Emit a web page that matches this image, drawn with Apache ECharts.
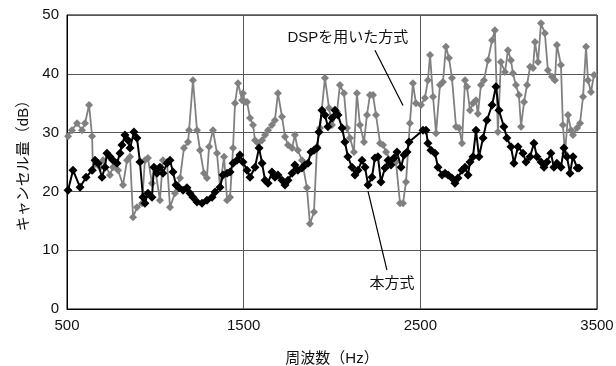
<!DOCTYPE html>
<html><head><meta charset="utf-8">
<script src="https://cdn.jsdelivr.net/npm/echarts@6/dist/echarts.min.js"></script>
<style>html,body{margin:0;padding:0;background:#fff}#c{width:616px;height:366px}</style>
</head><body><div id="c"></div>
<script>
const xTicks = [500, 1500, 2500, 3500];
const yTicks = [0, 10, 20, 30, 40, 50];
const dspName = 'DSPを用いた方式';
const oursName = '本方式';

const dspFreq = [506,528,557,585,602,625,642,647,670,687,704,743,760,789,817,840,857,874,896,925,941,958,981,998,1026,1043,1066,1083,1111,1140,1162,1185,1191,1213,1236,1253,1275,1292,1304,1326,1349,1366,1389,1406,1423,1440,1451,1468,1491,1496,1507,1519,1536,1553,1564,1581,1604,1621,1638,1660,1677,1694,1717,1734,1751,1774,1790,1807,1830,1858,1875,1898,1915,1932,1960,1983,2000,2028,2045,2068,2085,2102,2124,2141,2158,2181,2198,2215,2232,2249,2272,2289,2306,2334,2362,2385,2402,2419,2441,2458,2475,2504,2526,2543,2555,2572,2589,2611,2628,2645,2662,2679,2702,2719,2736,2753,2764,2781,2798,2815,2826,2843,2860,2883,2906,2922,2939,2956,2979,2996,3013,3024,3041,3058,3070,3087,3104,3121,3138,3149,3166,3183,3205,3222,3245,3262,3273,3296,3307,3319,3336,3353,3364,3387,3404,3421,3438,3449,3466,3483];
const dspDb = [29.4,30.4,31.6,30.4,31.6,34.7,29.4,23.6,24.8,24.1,25.3,22.8,24.1,23.6,21.1,25.3,25.9,15.6,17.3,18.0,25.3,25.7,21.4,24.0,18.5,25.3,25.0,17.3,19.7,22.3,27.4,28.4,30.4,38.9,30.4,27.0,23.1,22.3,27.6,30.4,26.5,20.7,25.9,18.5,19.0,27.4,35.0,38.4,35.5,36.7,35.2,35.2,32.5,31.3,28.7,28.2,28.7,29.6,30.4,31.3,32.1,36.7,32.7,29.3,27.9,27.4,29.6,27.0,25.3,20.6,14.5,16.5,27.6,30.8,39.3,34.2,31.3,33.5,38.1,36.7,30.8,29.1,26.7,36.7,31.3,28.4,33.0,36.4,36.4,33.0,28.2,27.9,26.7,25.3,25.0,18.0,18.0,21.6,31.6,38.4,35.0,34.7,35.9,38.9,43.2,36.1,29.9,38.1,38.6,44.6,42.7,39.3,31.0,30.8,28.2,38.9,37.8,33.8,35.0,35.5,33.2,38.1,38.9,42.3,45.7,47.4,30.1,42.0,40.3,44.0,42.3,40.1,38.1,36.4,31.0,35.2,38.1,41.2,41.0,45.4,42.0,48.6,46.9,40.6,39.5,38.9,44.9,41.5,31.3,26.5,33.0,30.4,29.6,30.8,31.6,36.1,44.6,38.9,36.9,39.8];

const oursFreq = [506,534,574,608,642,659,675,698,715,726,743,760,783,800,811,828,845,857,879,896,913,930,941,958,981,992,1009,1026,1043,1066,1083,1100,1117,1134,1157,1179,1196,1213,1236,1264,1292,1321,1338,1366,1383,1406,1423,1440,1462,1479,1496,1519,1536,1564,1587,1604,1621,1638,1660,1677,1694,1717,1734,1751,1774,1790,1807,1830,1847,1864,1881,1898,1915,1926,1943,1960,1977,2000,2017,2034,2057,2073,2090,2113,2130,2147,2170,2187,2204,2226,2243,2260,2277,2300,2317,2334,2351,2368,2391,2408,2425,2436,2515,2532,2543,2560,2583,2600,2623,2640,2657,2679,2696,2713,2736,2753,2770,2781,2798,2815,2832,2855,2877,2906,2928,2945,2973,2990,3013,3030,3053,3081,3098,3121,3143,3160,3183,3200,3217,3239,3256,3273,3296,3313,3330,3347,3364,3387,3398];
const oursDb = [20.2,23.6,20.7,22.4,23.6,25.3,24.8,22.4,24.1,26.5,25.9,25.3,24.8,26.5,27.9,29.6,28.7,27.4,30.1,29.1,25.0,19.0,18.0,19.7,19.0,24.1,23.1,24.1,23.1,24.8,25.3,23.3,21.1,20.6,20.2,20.6,19.7,19.0,18.2,18.0,18.5,19.0,19.9,20.7,22.8,23.1,23.3,24.8,25.3,26.2,25.0,23.6,22.4,24.1,27.4,24.8,21.9,21.4,23.3,22.4,22.8,21.9,21.1,21.9,23.1,24.5,23.6,24.0,24.5,24.8,26.7,27.0,27.4,30.1,33.8,33.0,31.0,32.5,33.8,33.0,30.8,28.4,25.9,24.1,22.8,23.6,25.3,24.1,21.1,22.4,25.7,25.9,21.6,24.0,25.3,24.5,25.7,26.7,24.1,26.2,26.7,28.4,30.4,30.4,28.2,27.0,26.5,24.1,22.8,23.1,22.8,22.3,21.4,22.3,23.6,24.1,22.8,25.0,25.9,30.4,25.9,29.1,32.1,34.7,37.8,33.8,31.0,29.1,27.6,24.8,27.6,26.5,25.0,25.9,28.2,25.9,25.0,24.1,25.0,26.5,24.1,24.8,24.1,27.4,25.9,23.1,25.9,24.0,24.0];

// annotation anchors (data coordinates)
const dspLabelAt = [2090, 46.1];
const dspArrow = [[2243, 44.0], [2402, 34.6]];
const oursLabelAt = [2340, 4.2];
const oursArrow = [[2311, 6.6], [2204, 20.0]];

const zip = (a, b) => a.map((v, i) => [v, b[i]]);
const FONT = '"Liberation Sans", "Noto Sans CJK JP", sans-serif';

const chart = echarts.init(document.getElementById('c'), null, {renderer: 'canvas'});
chart.setOption({
  animation: false,
  backgroundColor: '#fff',
  grid: {left: 67, right: 19, top: 15, bottom: 57, show: true, borderColor: '#000', borderWidth: 1, containLabel: false, outerBoundsMode: 'none'},
  xAxis: {
    type: 'value', min: xTicks[0], max: xTicks[xTicks.length - 1], interval: 1000,
    name: '周波数（Hz）', nameLocation: 'middle', nameGap: 42,
    nameTextStyle: {fontFamily: FONT, fontSize: 15, color: '#111'},
    axisLine: {show: true, lineStyle: {color: '#000', width: 1}},
    axisTick: {show: false},
    axisLabel: {fontFamily: FONT, fontSize: 15, color: '#111', margin: 9, formatter: v => String(v)},
    splitLine: {show: true, lineStyle: {color: '#555', width: 1}}
  },
  yAxis: {
    type: 'value', min: yTicks[0], max: yTicks[yTicks.length - 1], interval: 10,
    name: 'キャンセル量（dB）', nameLocation: 'middle', nameGap: 30, nameRotate: 90,
    nameTextStyle: {fontFamily: FONT, fontSize: 15, color: '#111'},
    axisLine: {show: true, lineStyle: {color: '#000', width: 1}},
    axisTick: {show: false},
    axisLabel: {fontFamily: FONT, fontSize: 15, color: '#111', margin: 8, formatter: v => String(v)},
    splitLine: {show: true, lineStyle: {color: '#555', width: 1}}
  },
  series: [
    {
      name: dspName, type: 'line', data: zip(dspFreq, dspDb),
      symbol: 'diamond', symbolSize: 8, showAllSymbol: true,
      itemStyle: {color: '#808080'},
      lineStyle: {color: '#808080', width: 1.8},
      markPoint: {
        symbol: 'circle', symbolSize: 0,
        label: {show: true, formatter: dspName, fontFamily: FONT, fontSize: 15, color: '#111', position: 'inside'},
        data: [{coord: dspLabelAt}]
      },
      markLine: {
        silent: true, symbol: ['none', 'arrow'], symbolSize: [0, 9],
        lineStyle: {color: '#000', width: 1.2, type: 'solid'},
        label: {show: false},
        data: [[{coord: dspArrow[0]}, {coord: dspArrow[1]}]]
      },
      z: 2
    },
    {
      name: oursName, type: 'line', data: zip(oursFreq, oursDb),
      symbol: 'diamond', symbolSize: 9, showAllSymbol: true,
      itemStyle: {color: '#000'},
      lineStyle: {color: '#000', width: 2},
      markPoint: {
        symbol: 'circle', symbolSize: 0,
        label: {show: true, formatter: oursName, fontFamily: FONT, fontSize: 15, color: '#111', position: 'inside'},
        data: [{coord: oursLabelAt}]
      },
      markLine: {
        silent: true, symbol: ['none', 'arrow'], symbolSize: [0, 9],
        lineStyle: {color: '#000', width: 1.2, type: 'solid'},
        label: {show: false},
        data: [[{coord: oursArrow[0]}, {coord: oursArrow[1]}]]
      },
      z: 3
    }
  ]
});
</script></body></html>
